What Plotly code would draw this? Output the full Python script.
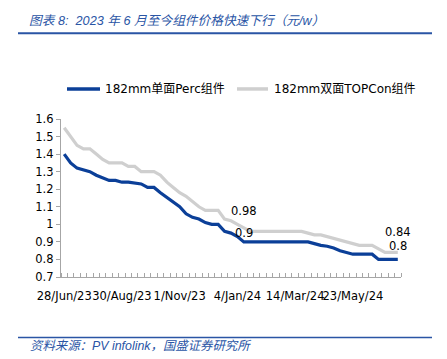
import plotly.graph_objects as go

# ---- data ----
series_names = ["182mm单面Perc组件", "182mm双面TOPCon组件"]
perc = [1.40, 1.35, 1.32, 1.31, 1.30, 1.28, 1.265, 1.25, 1.25, 1.24,
        1.24, 1.235, 1.23, 1.21, 1.21, 1.18, 1.155, 1.13, 1.10, 1.06,
        1.04, 1.03, 1.01, 1.00, 1.00, 0.96, 0.95, 0.93, 0.90, 0.90,
        0.90, 0.90, 0.90, 0.90, 0.90, 0.90, 0.90, 0.90, 0.90, 0.89,
        0.88, 0.875, 0.865, 0.85, 0.84, 0.83, 0.83, 0.83, 0.83, 0.80,
        0.80, 0.80, 0.80]
topcon = [1.55, 1.50, 1.45, 1.43, 1.43, 1.40, 1.37, 1.35, 1.35, 1.35,
          1.33, 1.33, 1.30, 1.30, 1.30, 1.28, 1.24, 1.21, 1.18, 1.16,
          1.13, 1.10, 1.08, 1.08, 1.08, 1.03, 1.02, 1.00, 0.98, 0.96,
          0.96, 0.96, 0.96, 0.96, 0.96, 0.96, 0.96, 0.96, 0.95, 0.94,
          0.94, 0.93, 0.92, 0.91, 0.90, 0.89, 0.88, 0.88, 0.88, 0.86,
          0.84, 0.84, 0.84]
tick_labels = ["28/Jun/23", "30/Aug/23", "1/Nov/23", "4/Jan/24", "14/Mar/24", "23/May/24"]
label_every = 9
y_ticks = [0.7, 0.8, 0.9, 1.0, 1.1, 1.2, 1.3, 1.4, 1.5, 1.6]
label_points = [28, 52]  # indices with data labels

title_text = "图表 8:  2023 年 6 月至今组件价格快速下行（元/w）"
source_text = "资料来源：PV infolink，国盛证券研究所"

# ---- figure ----
n = len(perc)
xs = list(range(n))
BLUE = "#0b3f98"
GREY = "#cfcfcf"
TXT_BLUE = "#2a55a5"
FONT = "DejaVu Sans, Noto Sans CJK SC, sans-serif"

OFF = 8  # page body margin
W, H = 447, 359
# desired plot area in page pixels
PL, PR, PT, PB = 61, 401, 119, 276.8
L = PL - OFF
T = PT - OFF
pw = PR - PL
ph = PB - PT
R = W - L - pw
B = H - T - ph

def px(xp):
    return (xp - PL) / pw

def py(yp):
    return (PB - yp) / ph

fig = go.Figure()
colors = [BLUE, GREY]
for name, ser, col in zip(series_names, [perc, topcon], colors):
    fig.add_trace(go.Scatter(x=xs, y=ser, mode="lines", name=name,
                             line=dict(color=col, width=3.2), showlegend=False))

annotations = []
shifts = {(0, 28): 9, (1, 28): 17, (0, 52): 13, (1, 52): 20}
for si, ser in enumerate([perc, topcon]):
    for idx in label_points:
        annotations.append(dict(x=idx, y=ser[idx], xref="x", yref="y",
                                text=f"{ser[idx]:g}", showarrow=False,
                                yshift=shifts[(si, idx)], xshift=0,
                                font=dict(family=FONT, size=11.5, color="#000000")))

annotations.append(dict(x=px(27), y=py(21.5), xref="paper", yref="paper",
                        text=f"<i>{title_text}</i>", showarrow=False,
                        xanchor="left", yanchor="middle",
                        font=dict(family="Liberation Sans, Noto Sans CJK SC", size=12.7, color=TXT_BLUE)))
annotations.append(dict(x=px(28), y=py(346), xref="paper", yref="paper",
                        text=f"<i>{source_text}</i>", showarrow=False,
                        xanchor="left", yanchor="middle",
                        font=dict(family="Liberation Sans, Noto Sans CJK SC", size=12.4, color=TXT_BLUE)))

shapes = [
    dict(type="line", xref="paper", yref="paper", x0=px(18), x1=px(432),
         y0=py(33.3), y1=py(33.3), line=dict(color=TXT_BLUE, width=2)),
    dict(type="line", xref="paper", yref="paper", x0=px(18), x1=px(432),
         y0=py(337.3), y1=py(337.3), line=dict(color=TXT_BLUE, width=1.5)),
]

# manual legend
legend_items = [(67, 100, 103), (237, 268, 272)]
for (x0, x1, xt), name, col in zip(legend_items, series_names, colors):
    shapes.append(dict(type="line", xref="paper", yref="paper", x0=px(x0), x1=px(x1),
                       y0=py(89), y1=py(89), line=dict(color=col, width=3.5)))
    annotations.append(dict(x=px(xt), y=py(89), xref="paper", yref="paper",
                            text=name, showarrow=False, xanchor="left", yanchor="middle",
                            font=dict(family=FONT, size=12, color="#000000")))

fig.update_layout(
    width=W, height=H,
    margin=dict(l=L, r=R, t=T, b=B, pad=0),
    paper_bgcolor="white", plot_bgcolor="white",
    font=dict(family=FONT, size=12, color="#000000"),
    showlegend=False,
    annotations=annotations,
    shapes=shapes,
    xaxis=dict(range=[-0.5, n - 0.5], showgrid=False, zeroline=False,
               showline=True, linecolor="#a6a6a6", linewidth=1.3,
               tickmode="array",
               tickvals=[i * label_every for i in range(len(tick_labels))],
               ticktext=tick_labels, ticks="", ticklen=0, tickangle=0,
               ticklabelstandoff=8,
               tickfont=dict(family=FONT, size=11.5, color="#000000"),
               minor=dict(tickmode="linear", tick0=-0.5, dtick=1, ticks="inside",
                          ticklen=4, tickcolor="#a6a6a6", tickwidth=1, showgrid=False)),
    yaxis=dict(range=[0.7, 1.6], showgrid=False, zeroline=False,
               showline=True, linecolor="#a6a6a6", linewidth=1.3,
               tickmode="array", tickvals=y_ticks, ticktext=[f"{v:g}" for v in y_ticks],
               ticks="outside", ticklen=4, tickcolor="#a6a6a6",
               tickfont=dict(family=FONT, size=11.5, color="#000000")),
)

fig.write_html("out.html")
